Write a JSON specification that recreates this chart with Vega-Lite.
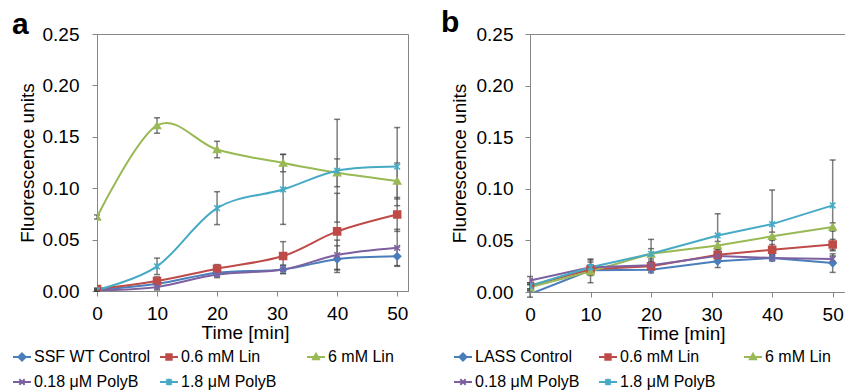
{
  "$schema": "https://vega.github.io/schema/vega-lite/v6.json",
  "background": "white",
  "padding": {"left": 11, "top": 7, "right": 0, "bottom": 0},
  "bounds": "flush",
  "spacing": 122,
  "datasets": {
    "a": [
      {"t": 0, "s": "SSF WT Control", "v": 0.001, "lo": 0.0, "hi": 0.002},
      {"t": 10, "s": "SSF WT Control", "v": 0.007, "lo": 0.003, "hi": 0.011},
      {"t": 20, "s": "SSF WT Control", "v": 0.0178, "lo": 0.0148, "hi": 0.0208},
      {"t": 31, "s": "SSF WT Control", "v": 0.021, "lo": 0.017, "hi": 0.025},
      {"t": 40, "s": "SSF WT Control", "v": 0.031, "lo": 0.018, "hi": 0.044},
      {"t": 50, "s": "SSF WT Control", "v": 0.0337, "lo": 0.0247, "hi": 0.0427},
      {"t": 0, "s": "0.6 mM Lin", "v": 0.002, "lo": 0.001, "hi": 0.003},
      {"t": 10, "s": "0.6 mM Lin", "v": 0.0097, "lo": 0.0057, "hi": 0.0137},
      {"t": 20, "s": "0.6 mM Lin", "v": 0.0217, "lo": 0.0177, "hi": 0.0257},
      {"t": 31, "s": "0.6 mM Lin", "v": 0.034, "lo": 0.02, "hi": 0.048},
      {"t": 40, "s": "0.6 mM Lin", "v": 0.058, "lo": 0.021, "hi": 0.095},
      {"t": 50, "s": "0.6 mM Lin", "v": 0.0745, "lo": 0.058, "hi": 0.091},
      {"t": 0, "s": "6 mM Lin", "v": 0.072, "lo": 0.07, "hi": 0.074},
      {"t": 10, "s": "6 mM Lin", "v": 0.161, "lo": 0.1535, "hi": 0.1685},
      {"t": 20, "s": "6 mM Lin", "v": 0.1376, "lo": 0.1296, "hi": 0.1456},
      {"t": 31, "s": "6 mM Lin", "v": 0.1245, "lo": 0.116, "hi": 0.133},
      {"t": 40, "s": "6 mM Lin", "v": 0.115, "lo": 0.1015, "hi": 0.1285},
      {"t": 50, "s": "6 mM Lin", "v": 0.107, "lo": 0.0895, "hi": 0.1245},
      {"t": 0, "s": "0.18 μM PolyB", "v": 0.0005, "lo": 0.0, "hi": 0.001},
      {"t": 10, "s": "0.18 μM PolyB", "v": 0.004, "lo": 0.001, "hi": 0.007},
      {"t": 20, "s": "0.18 μM PolyB", "v": 0.016, "lo": 0.013, "hi": 0.019},
      {"t": 31, "s": "0.18 μM PolyB", "v": 0.021, "lo": 0.017, "hi": 0.025},
      {"t": 40, "s": "0.18 μM PolyB", "v": 0.035, "lo": 0.0205, "hi": 0.0495},
      {"t": 50, "s": "0.18 μM PolyB", "v": 0.042, "lo": 0.024, "hi": 0.06},
      {"t": 0, "s": "1.8 μM PolyB", "v": 0.001, "lo": 0.0, "hi": 0.002},
      {"t": 10, "s": "1.8 μM PolyB", "v": 0.024, "lo": 0.016, "hi": 0.032},
      {"t": 20, "s": "1.8 μM PolyB", "v": 0.0806, "lo": 0.0646, "hi": 0.0966},
      {"t": 31, "s": "1.8 μM PolyB", "v": 0.0988, "lo": 0.0648, "hi": 0.1328},
      {"t": 40, "s": "1.8 μM PolyB", "v": 0.117, "lo": 0.067, "hi": 0.167},
      {"t": 50, "s": "1.8 μM PolyB", "v": 0.121, "lo": 0.083, "hi": 0.159}
    ],
    "b": [
      {"t": 0, "s": "LASS Control", "v": -0.002, "lo": -0.005, "hi": 0.001},
      {"t": 10, "s": "LASS Control", "v": 0.021, "lo": 0.017, "hi": 0.025},
      {"t": 20, "s": "LASS Control", "v": 0.0216, "lo": 0.0186, "hi": 0.0246},
      {"t": 31, "s": "LASS Control", "v": 0.0297, "lo": 0.0237, "hi": 0.0357},
      {"t": 40, "s": "LASS Control", "v": 0.033, "lo": 0.03, "hi": 0.036},
      {"t": 50, "s": "LASS Control", "v": 0.028, "lo": 0.019, "hi": 0.037},
      {"t": 0, "s": "0.6 mM Lin", "v": 0.006, "lo": 0.003, "hi": 0.009},
      {"t": 10, "s": "0.6 mM Lin", "v": 0.022, "lo": 0.018, "hi": 0.026},
      {"t": 20, "s": "0.6 mM Lin", "v": 0.025, "lo": 0.021, "hi": 0.029},
      {"t": 31, "s": "0.6 mM Lin", "v": 0.036, "lo": 0.031, "hi": 0.041},
      {"t": 40, "s": "0.6 mM Lin", "v": 0.041, "lo": 0.036, "hi": 0.046},
      {"t": 50, "s": "0.6 mM Lin", "v": 0.046, "lo": 0.041, "hi": 0.051},
      {"t": 0, "s": "6 mM Lin", "v": 0.0045, "lo": 0.0015, "hi": 0.0075},
      {"t": 10, "s": "6 mM Lin", "v": 0.02, "lo": 0.009, "hi": 0.031},
      {"t": 20, "s": "6 mM Lin", "v": 0.037, "lo": 0.032, "hi": 0.042},
      {"t": 31, "s": "6 mM Lin", "v": 0.045, "lo": 0.041, "hi": 0.049},
      {"t": 40, "s": "6 mM Lin", "v": 0.054, "lo": 0.05, "hi": 0.058},
      {"t": 50, "s": "6 mM Lin", "v": 0.063, "lo": 0.059, "hi": 0.067},
      {"t": 0, "s": "0.18 μM PolyB", "v": 0.011, "lo": 0.007, "hi": 0.015},
      {"t": 10, "s": "0.18 μM PolyB", "v": 0.024, "lo": 0.019, "hi": 0.029},
      {"t": 20, "s": "0.18 μM PolyB", "v": 0.026, "lo": 0.022, "hi": 0.03},
      {"t": 31, "s": "0.18 μM PolyB", "v": 0.035, "lo": 0.031, "hi": 0.039},
      {"t": 40, "s": "0.18 μM PolyB", "v": 0.033, "lo": 0.031, "hi": 0.035},
      {"t": 50, "s": "0.18 μM PolyB", "v": 0.032, "lo": 0.029, "hi": 0.035},
      {"t": 0, "s": "1.8 μM PolyB", "v": 0.006, "lo": 0.003, "hi": 0.009},
      {"t": 10, "s": "1.8 μM PolyB", "v": 0.024, "lo": 0.016, "hi": 0.032},
      {"t": 20, "s": "1.8 μM PolyB", "v": 0.037, "lo": 0.023, "hi": 0.051},
      {"t": 31, "s": "1.8 μM PolyB", "v": 0.0548, "lo": 0.0338, "hi": 0.0758},
      {"t": 40, "s": "1.8 μM PolyB", "v": 0.0658, "lo": 0.0328, "hi": 0.0988},
      {"t": 50, "s": "1.8 μM PolyB", "v": 0.0839, "lo": 0.0399, "hi": 0.1279}
    ]
  },
  "config": {
    "view": {"stroke": "#868686", "strokeWidth": 1},
    "axis": {"labelFont": "Liberation Sans", "labelFontSize": 19, "labelColor": "#000", "titleFont": "Liberation Sans", "titleFontSize": 19, "titleFontWeight": "normal", "titleColor": "#000", "grid": false, "domainColor": "#868686", "tickColor": "#868686", "tickSize": 5, "labelFlush": false, "labelOverlap": false},
    "legend": {"labelFont": "Liberation Sans", "labelFontSize": 16, "labelColor": "#000", "labelOffset": 2, "symbolSize": 324, "symbolStrokeWidth": 2, "columns": 3, "gridAlign": "all", "rowPadding": 7, "labelLimit": 0, "direction": "horizontal"}
  },
  "resolve": {"scale": {"color": "independent"}, "legend": {"color": "independent"}},
  "hconcat": [
    {
      "width": 311, "height": 257,
      "data": {"name": "a"},
      "title": {"text": "a", "anchor": "start", "frame": "group", "orient": "top", "offset": 0, "dx": -85, "dy": 39, "font": "Liberation Sans", "fontSize": 30, "fontWeight": "bold", "baseline": "alphabetic", "color": "#000"},
      "encoding": {
        "x": {"field": "t", "type": "quantitative", "scale": {"domain": [0, 51.8], "nice": false, "zero": false}, "axis": {"values": [0, 10, 20, 30, 40, 50], "title": "Time [min]", "titleX": 148, "titlePadding": 0, "labelPadding": 8}},
        "y": {"field": "v", "type": "quantitative", "scale": {"domain": [0, 0.25], "nice": false}, "axis": {"values": [0, 0.05, 0.1, 0.15, 0.2, 0.25], "format": ".2f", "title": "Fluorescence units", "labelPadding": 13, "titlePadding": 4, "minExtent": 56, "maxExtent": 56}},
        "color": {"field": "s", "type": "nominal", "scale": {"domain": ["SSF WT Control", "0.6 mM Lin", "6 mM Lin", "0.18 μM PolyB", "1.8 μM PolyB"], "range": ["#4A7EBB", "#BE4B48", "#98B954", "#7D60A0", "#46AAC5"]},
          "legend": {"title": null, "orient": "none", "legendX": -85, "legendY": 313, "columnPadding": 5,
            "encode": {"symbols": {"update": {
              "shape": {"signal": "({'SSF WT Control':'M-1,0H1M0,-0.4L0.4,0L0,0.4L-0.4,0Z','LASS Control':'M-1,0H1M0,-0.4L0.4,0L0,0.4L-0.4,0Z','0.6 mM Lin':'M-1,0H1M-0.3,-0.3H0.3V0.3H-0.3Z','6 mM Lin':'M-1,0H1M0,-0.36L0.34,0.26H-0.34Z','0.18 μM PolyB':'M-1,0H1M-0.3,-0.3L0.3,0.3M-0.3,0.3L0.3,-0.3','1.8 μM PolyB':'M-1,0H1M-0.3,-0.3L0.3,0.3M-0.3,0.3L0.3,-0.3M0,-0.36V0.36'})[datum.value]"},
              "fill": {"signal": "({'SSF WT Control':'#4A7EBB','LASS Control':'#4A7EBB','0.6 mM Lin':'#BE4B48','6 mM Lin':'#98B954','0.18 μM PolyB':'#7D60A0','1.8 μM PolyB':'#46AAC5'})[datum.value]"},
              "stroke": {"signal": "({'SSF WT Control':'#4A7EBB','LASS Control':'#4A7EBB','0.6 mM Lin':'#BE4B48','6 mM Lin':'#98B954','0.18 μM PolyB':'#7D60A0','1.8 μM PolyB':'#46AAC5'})[datum.value]"}
            }}}}
        }
      },
      "layer": [
        {"mark": {"type": "rule", "strokeWidth": 1.5}, "encoding": {"y": {"field": "lo", "type": "quantitative", "scale": {"domain": [0, 0.25], "nice": false}}, "y2": {"field": "hi"}, "color": {"value": "#7f7f7f"}}},
        {"mark": {"type": "tick", "orient": "horizontal", "size": 6, "thickness": 1.5}, "encoding": {"y": {"field": "lo", "type": "quantitative", "scale": {"domain": [0, 0.25], "nice": false}}, "color": {"value": "#404040"}}},
        {"mark": {"type": "tick", "orient": "horizontal", "size": 6, "thickness": 1.5}, "encoding": {"y": {"field": "hi", "type": "quantitative", "scale": {"domain": [0, 0.25], "nice": false}}, "color": {"value": "#404040"}}},
        {"mark": {"type": "line", "interpolate": "cardinal", "strokeWidth": 2, "clip": true}},
        {"mark": {"type": "point", "filled": false, "strokeWidth": 1.5, "size": 50, "opacity": 1, "clip": true},
          "encoding": {
            "shape": {"condition": [{"test": "datum.s === '0.6 mM Lin'", "value": "square"}, {"test": "datum.s === '6 mM Lin'", "value": "triangle-up"}, {"test": "datum.s === '0.18 μM PolyB'", "value": "M-0.8,-0.8L0.8,0.8M-0.8,0.8L0.8,-0.8"}, {"test": "datum.s === '1.8 μM PolyB'", "value": "M-0.8,-0.8L0.8,0.8M-0.8,0.8L0.8,-0.8M0,-1V1"}], "value": "diamond"},
            "fill": {"condition": [{"test": "datum.s === '0.6 mM Lin'", "value": "#BE4B48"}, {"test": "datum.s === '6 mM Lin'", "value": "#98B954"}, {"test": "datum.s === '0.18 μM PolyB'", "value": "#7D60A0"}, {"test": "datum.s === '1.8 μM PolyB'", "value": "#46AAC5"}], "value": "#4A7EBB"}
          }}
      ]
    },
    {
      "width": 316, "height": 258,
      "data": {"name": "b"},
      "title": {"text": "b", "anchor": "start", "frame": "group", "orient": "top", "offset": 0, "dx": -89, "dy": 37, "font": "Liberation Sans", "fontSize": 30, "fontWeight": "bold", "baseline": "alphabetic", "color": "#000"},
      "encoding": {
        "x": {"field": "t", "type": "quantitative", "scale": {"domain": [0, 52.2], "nice": false, "zero": false}, "axis": {"values": [0, 10, 20, 30, 40, 50], "title": "Time [min]", "titleX": 151, "titlePadding": 0, "labelPadding": 8}},
        "y": {"field": "v", "type": "quantitative", "scale": {"domain": [0, 0.25], "nice": false}, "axis": {"values": [0, 0.05, 0.1, 0.15, 0.2, 0.25], "format": ".2f", "title": "Fluorescence units", "labelPadding": 12, "titlePadding": 5, "minExtent": 56, "maxExtent": 56}},
        "color": {"field": "s", "type": "nominal", "scale": {"domain": ["LASS Control", "0.6 mM Lin", "6 mM Lin", "0.18 μM PolyB", "1.8 μM PolyB"], "range": ["#4A7EBB", "#BE4B48", "#98B954", "#7D60A0", "#46AAC5"]},
          "legend": {"title": null, "orient": "none", "legendX": -77, "legendY": 313, "columnPadding": 15,
            "encode": {"symbols": {"update": {
              "shape": {"signal": "({'SSF WT Control':'M-1,0H1M0,-0.4L0.4,0L0,0.4L-0.4,0Z','LASS Control':'M-1,0H1M0,-0.4L0.4,0L0,0.4L-0.4,0Z','0.6 mM Lin':'M-1,0H1M-0.3,-0.3H0.3V0.3H-0.3Z','6 mM Lin':'M-1,0H1M0,-0.36L0.34,0.26H-0.34Z','0.18 μM PolyB':'M-1,0H1M-0.3,-0.3L0.3,0.3M-0.3,0.3L0.3,-0.3','1.8 μM PolyB':'M-1,0H1M-0.3,-0.3L0.3,0.3M-0.3,0.3L0.3,-0.3M0,-0.36V0.36'})[datum.value]"},
              "fill": {"signal": "({'SSF WT Control':'#4A7EBB','LASS Control':'#4A7EBB','0.6 mM Lin':'#BE4B48','6 mM Lin':'#98B954','0.18 μM PolyB':'#7D60A0','1.8 μM PolyB':'#46AAC5'})[datum.value]"},
              "stroke": {"signal": "({'SSF WT Control':'#4A7EBB','LASS Control':'#4A7EBB','0.6 mM Lin':'#BE4B48','6 mM Lin':'#98B954','0.18 μM PolyB':'#7D60A0','1.8 μM PolyB':'#46AAC5'})[datum.value]"}
            }}}}
        }
      },
      "layer": [
        {"mark": {"type": "rule", "strokeWidth": 1.5}, "encoding": {"y": {"field": "lo", "type": "quantitative", "scale": {"domain": [0, 0.25], "nice": false}}, "y2": {"field": "hi"}, "color": {"value": "#7f7f7f"}}},
        {"mark": {"type": "tick", "orient": "horizontal", "size": 6, "thickness": 1.5}, "encoding": {"y": {"field": "lo", "type": "quantitative", "scale": {"domain": [0, 0.25], "nice": false}}, "color": {"value": "#404040"}}},
        {"mark": {"type": "tick", "orient": "horizontal", "size": 6, "thickness": 1.5}, "encoding": {"y": {"field": "hi", "type": "quantitative", "scale": {"domain": [0, 0.25], "nice": false}}, "color": {"value": "#404040"}}},
        {"mark": {"type": "line", "interpolate": "linear", "strokeWidth": 2, "clip": true}},
        {"mark": {"type": "point", "filled": false, "strokeWidth": 1.5, "size": 50, "opacity": 1, "clip": true},
          "encoding": {
            "shape": {"condition": [{"test": "datum.s === '0.6 mM Lin'", "value": "square"}, {"test": "datum.s === '6 mM Lin'", "value": "triangle-up"}, {"test": "datum.s === '0.18 μM PolyB'", "value": "M-0.8,-0.8L0.8,0.8M-0.8,0.8L0.8,-0.8"}, {"test": "datum.s === '1.8 μM PolyB'", "value": "M-0.8,-0.8L0.8,0.8M-0.8,0.8L0.8,-0.8M0,-1V1"}], "value": "diamond"},
            "fill": {"condition": [{"test": "datum.s === '0.6 mM Lin'", "value": "#BE4B48"}, {"test": "datum.s === '6 mM Lin'", "value": "#98B954"}, {"test": "datum.s === '0.18 μM PolyB'", "value": "#7D60A0"}, {"test": "datum.s === '1.8 μM PolyB'", "value": "#46AAC5"}], "value": "#4A7EBB"}
          }}
      ]
    }
  ]
}
